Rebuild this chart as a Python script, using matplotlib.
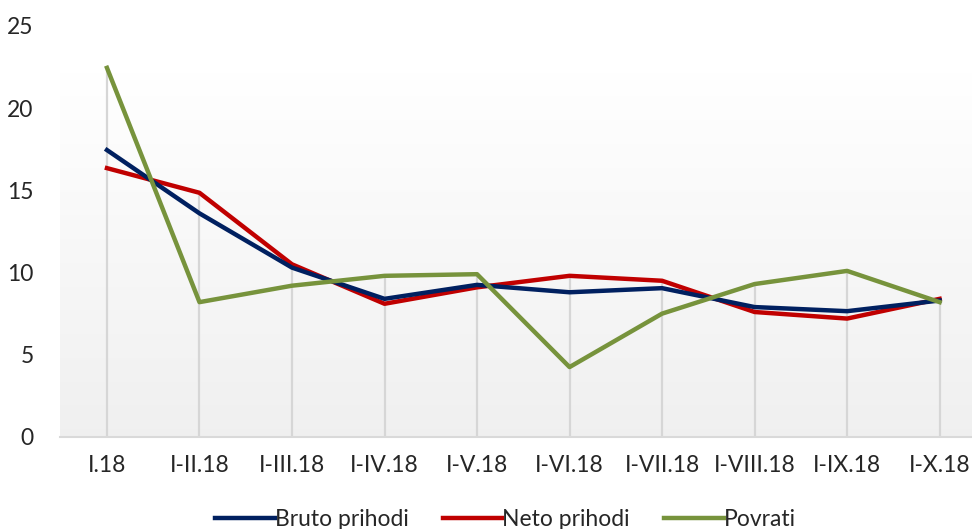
import matplotlib
matplotlib.use("Agg")
import matplotlib.pyplot as plt
import numpy as np

categories = ["I.18", "I-II.18", "I-III.18", "I-IV.18", "I-V.18", "I-VI.18",
              "I-VII.18", "I-VIII.18", "I-IX.18", "I-X.18"]
bruto = [17.45, 13.6, 10.3, 8.4, 9.25, 8.8, 9.05, 7.9, 7.65, 8.3]
neto = [16.35, 14.85, 10.5, 8.1, 9.1, 9.8, 9.5, 7.6, 7.2, 8.4]
povrati = [22.45, 8.2, 9.2, 9.8, 9.9, 4.25, 7.5, 9.3, 10.1, 8.2]
yticks = [0, 5, 10, 15, 20, 25]

plt.rcParams['font.family'] = ['Lato', 'DejaVu Sans']

fig = plt.figure(figsize=(9.72, 5.29), dpi=100)
ax = fig.add_axes([0.0617, 0.174, 0.9383, 0.777])

x = np.arange(len(categories))

# gradient background
grad = np.linspace(1.0, 0.0, 256).reshape(-1, 1)
top = np.array([1.0, 1.0, 1.0])
bot = np.array([0.94, 0.94, 0.94])
img = top * grad[..., None] + bot * (1 - grad[..., None])
ax.imshow(img, extent=[0, 1, 0, 0.886], transform=ax.transAxes,
          aspect='auto', zorder=0)

# drop lines
maxv = np.max(np.vstack([bruto, neto, povrati]), axis=0)
ax.vlines(x, 0, maxv, color='#d6d6d6', lw=1.6, zorder=1)

ax.plot(x, bruto, color='#002060', lw=3.2, label='Bruto prihodi', zorder=3,
        solid_joinstyle='round')
ax.plot(x, neto, color='#C00000', lw=3.2, label='Neto prihodi', zorder=2,
        solid_joinstyle='round')
ax.plot(x, povrati, color='#77933C', lw=3.2, label='Povrati', zorder=4,
        solid_joinstyle='round')

ax.set_xlim(-0.508, 9.35)
ax.set_ylim(0, 25)
ax.set_yticks(yticks)
ax.set_xticks(x)
ax.set_xticklabels(categories)
for s in ['top', 'right', 'left']:
    ax.spines[s].set_visible(False)
ax.spines['bottom'].set_color('#d9d9d9')
ax.spines['bottom'].set_linewidth(1.5)
ax.tick_params(length=0, labelsize=16.5, colors='#262626')
ax.tick_params(axis='y', pad=19)
ax.tick_params(axis='x', pad=13)
ax.patch.set_alpha(0)

leg = fig.legend(loc='lower center', bbox_to_anchor=(0.52, -0.04), ncol=3,
                 frameon=False, fontsize=16.5, handlelength=2.6,
                 handletextpad=0.0, columnspacing=1.5)
for t in leg.get_texts():
    t.set_color('#262626')

fig.savefig('out.png', dpi=100)
